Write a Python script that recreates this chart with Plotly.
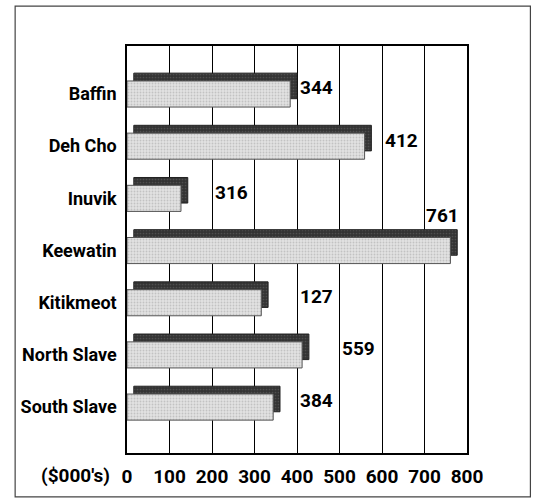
import math
import plotly.graph_objects as go

# Regional spending, thousands of dollars
regions = ["Baffin", "Deh Cho", "Inuvik", "Keewatin", "Kitikmeot", "North Slave", "South Slave"]
bar_values = [384, 559, 127, 761, 316, 412, 344]
# value labels are printed bottom-to-top, one per row
label_values = bar_values[::-1]
x_ticks = [0, 100, 200, 300, 400, 500, 600, 700, 800]
unit_label = "($000's)"

FONT = "Roboto, Liberation Sans, Arial, sans-serif"
X_MAX = 800
GRID_STEP = 100
DEPTH_X = 16      # shadow offset along the value axis (data units)
DEPTH_Y = 0.155   # shadow offset along the category axis (row units)
BAR_W = 0.5

rows = list(range(len(regions)))


def bold(size):
    return dict(family=FONT, size=size, color="black", weight="bold")


fig = go.Figure()

# dark "depth" bar sitting behind and up-right of each front bar
fig.add_trace(go.Bar(
    orientation="h",
    y=[r - DEPTH_Y for r in rows],
    x=bar_values,
    base=DEPTH_X,
    width=BAR_W * 0.98,
    marker=dict(
        color="#3a3a3a",
        line=dict(color="#222222", width=1),
        pattern=dict(shape=".", fgcolor="#6a6a6a", bgcolor="#333333", size=3, solidity=0.25),
    ),
    hoverinfo="skip",
    showlegend=False,
))

# light stippled front bar
fig.add_trace(go.Bar(
    orientation="h",
    y=rows,
    x=bar_values,
    width=BAR_W,
    marker=dict(
        color="#d6d6d6",
        line=dict(color="#555555", width=1),
        pattern=dict(shape=".", fgcolor="#a2a2a2", bgcolor="#e2e2e2", size=3, solidity=0.3),
    ),
    hoverinfo="skip",
    showlegend=False,
))

# value labels: centred in the grid cell after the one holding the bar end,
# or above the bar when that cell would fall past the axis end
annotations = []
for r, v, lab in zip(rows, bar_values, label_values):
    cell = math.floor(v / GRID_STEP) + 1
    if cell * GRID_STEP < X_MAX:
        annotations.append(dict(
            x=cell * GRID_STEP + GRID_STEP * 0.45, y=r - DEPTH_Y / 2 - 0.04, xref="x", yref="y",
            text=str(lab), showarrow=False, xanchor="center", yanchor="middle",
            font=bold(19),
        ))
    else:
        annotations.append(dict(
            x=(cell - 1) * GRID_STEP + GRID_STEP * 0.42, y=r - DEPTH_Y - BAR_W / 2, xref="x", yref="y",
            text=str(lab), showarrow=False, xanchor="center", yanchor="bottom",
            font=bold(19),
        ))

annotations.append(dict(
    x=0, y=0, xref="x", yref="paper", text=unit_label, showarrow=False,
    xanchor="right", yanchor="middle", xshift=-15, yshift=-22,
    font=bold(19),
))

fig.update_layout(
    width=539, height=504,
    margin=dict(l=127, r=71.5, t=46, b=51),
    paper_bgcolor="white", plot_bgcolor="white",
    barmode="overlay",
    annotations=annotations,
    shapes=[dict(
        type="rect", xref="paper", yref="paper",
        x0=-0.329, x1=1.1865, y0=-0.108, y1=1.098,
        line=dict(color="#444444", width=1.2), fillcolor="rgba(0,0,0,0)", layer="below",
    )],
    xaxis=dict(
        range=[0, X_MAX], tickvals=x_ticks, ticktext=[str(t) for t in x_ticks],
        showgrid=True, gridcolor="black", gridwidth=1.3,
        showline=True, mirror=True, linecolor="black", linewidth=1.5,
        zeroline=False, ticks="", ticklabelstandoff=5, automargin=False,
        tickfont=bold(19),
    ),
    yaxis=dict(
        range=[len(regions) - 0.12, -0.92],
        tickvals=rows, ticktext=regions,
        showgrid=False, zeroline=False,
        showline=True, mirror=True, linecolor="black", linewidth=1.5,
        ticks="", ticklabelstandoff=5, automargin=False,
        tickfont=bold(18),
    ),
)

fig.write_html("out.html")
